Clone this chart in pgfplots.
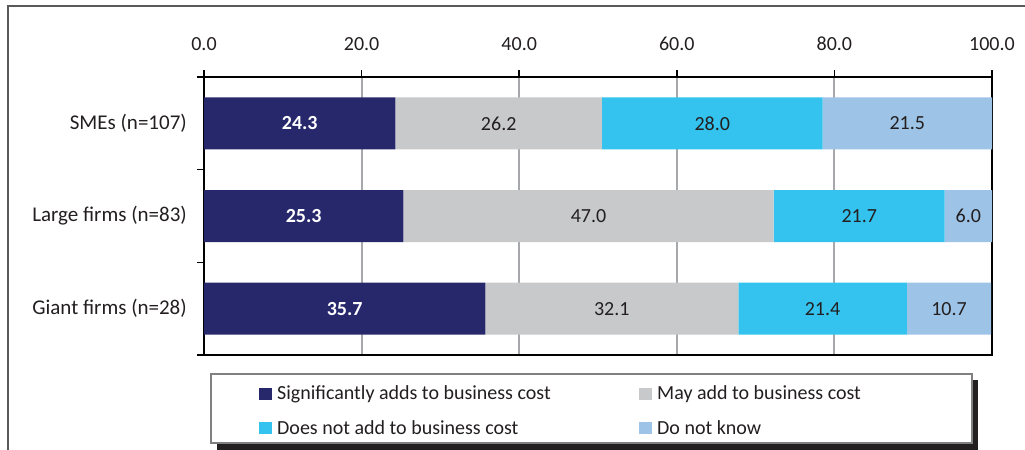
\documentclass[border=0pt]{standalone}
\usepackage{fontspec}
\setmainfont{Carlito}
\usepackage{pgfplots}
\pgfplotsset{compat=1.18}

\definecolor{navybar}{HTML}{27286C}
\definecolor{graybar}{HTML}{C8C9CB}
\definecolor{cyanbar}{HTML}{33C3EE}
\definecolor{palebar}{HTML}{9DC3E6}
\definecolor{framegray}{HTML}{5A5A5A}
\definecolor{gridgray}{HTML}{A6A8AB}
\definecolor{txt}{HTML}{231F20}

\newcommand\chartfont{\fontsize{20bp}{24bp}\selectfont}

\begin{document}
\begin{tikzpicture}[font=\chartfont]
\useasboundingbox (0,0) rectangle (1025bp,450bp);
% outer frame and legend box
\draw[framegray, line width=2bp] (8bp,0) -- (8bp,444bp) -- (1025bp,444bp);
\fill[txt] (217bp,0bp) rectangle (978bp,70bp);
\draw[gray, line width=1.2bp, fill=white] (211bp,7bp) rectangle (972bp,76bp);

\begin{axis}[
    at={(204bp,95bp)}, anchor=south west,
    scale only axis, width=788bp, height=278bp,
    xbar stacked, bar width=52bp,
    xmin=0, xmax=100, ymin=-0.5, ymax=2.5, y dir=reverse,
    axis line style={line width=2bp, black},
    xtick={0,20,...,100},
    xtick pos=right, xticklabel pos=right,
    xticklabel style={anchor=base, yshift=20bp, text=txt},
    ytick={0,1,2},
    yticklabels={SMEs (n=107),Large firms (n=83),Giant firms (n=28)},
    ytick pos=left,
    yticklabel style={text=txt, inner sep=0pt, xshift=-10bp,
        font=\fontsize{21bp}{25bp}\selectfont},
    minor ytick={-0.5,0.5,1.5,2.5},
    tick align=outside,
    major tick length=7bp, minor tick length=7bp,
    tick style={black, line width=1.5bp},
    major y tick style={draw=none},
    xmajorgrids,
    major grid style={gridgray, line width=2bp},
    /pgf/number format/.cd, fixed, fixed zerofill, precision=1, assume math mode=true,
    /pgfplots/.cd,
    visualization depends on=rawx \as \rawx,
    nodes near coords={\pgfmathprintnumber{\rawx}},
    every node near coord/.append style={anchor=center, text=txt},
    legend columns=2,
    legend image code/.code={\fill[#1, draw=none] (0bp,0bp) rectangle (13bp,12bp);},
    legend style={draw=none, fill=none, at={(0.0698,-0.1068)}, anchor=north west,
        inner sep=0pt, column sep=5bp, row sep=14.6bp,
        nodes={inner sep=0pt, anchor=base west, text=txt, text height=15bp, text depth=5bp}},
]
\addplot[fill=navybar, draw=none,
    nodes near coords style={text=white, font=\chartfont\bfseries}] coordinates {
    (24.3,0) (25.3,1) (35.7,2)};
\addplot[fill=graybar, draw=none] coordinates {
    (26.2,0) (47.0,1) (32.1,2)};
\addplot[fill=cyanbar, draw=none] coordinates {
    (28.0,0) (21.7,1) (21.4,2)};
\addplot[fill=palebar, draw=none] coordinates {
    (21.5,0) (6.0,1) (10.7,2)};
\addlegendentry{\makebox[357bp][l]{Significantly adds to business cost}}
\addlegendentry{May add to business cost}
\addlegendentry{\makebox[357bp][l]{Does not add to business cost}}
\addlegendentry{Do not know}
\end{axis}
\end{tikzpicture}
\end{document}
